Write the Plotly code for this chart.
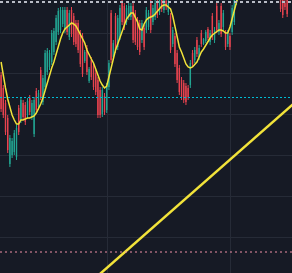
import plotly.graph_objects as go

# candle index positions
idx = list(range(131))

opens = [225,212,197,182,136,145,148,143,192,180,197,195,185,202,183,166,209,193,230,198,
         213,228,233,238,248,258,268,270,276,270,290,263,290,284,277,277,267,264,239,252,
         219,240,234,227,220,210,186,204,190,213,287,243,284,253,263,297,294,278,283,283,
         294,287,280,277,260,272,270,273,297,278,283,297,288,302,290,299,288,284,256,264,
         247,232,220,217,214,212,215,247,240,260,243,267,256,259,271,258,284,260,294,268,
         294,273,267,256,264,268,278,298,308,327,315,320,337,325,338,332,319,333,327,314,
         327,323,310,322,319,315,305,302,300,297,302]
highs = [228,215,200,185,165,162,170,175,195,203,200,198,202,205,200,203,212,210,233,225,
         250,252,250,270,272,285,292,293,293,293,293,290,293,287,280,280,270,267,250,255,
         233,243,237,230,223,213,213,207,217,240,290,260,287,285,295,300,297,295,297,297,
         297,290,283,280,280,275,293,290,300,295,300,300,303,305,303,302,300,287,273,267,
         250,235,223,220,217,215,240,250,253,263,255,270,262,270,273,270,287,273,297,280,
         297,290,270,270,267,295,305,315,325,330,332,338,340,342,341,335,338,336,330,332,
         330,326,328,325,322,318,320,305,303,300,305]
lows = [188,182,165,147,133,142,145,140,165,177,180,175,182,185,180,163,187,190,200,195,
        210,225,230,235,245,255,265,267,273,267,265,260,263,255,253,247,233,223,237,225,
        217,220,210,205,182,182,183,185,187,210,237,240,247,250,260,275,270,275,280,280,
        257,255,250,245,257,250,267,270,267,275,280,282,285,288,287,290,285,247,253,233,
        217,205,200,197,195,200,212,233,237,243,240,253,255,257,260,255,260,257,267,265,
        263,270,250,253,250,265,275,295,305,310,312,318,320,322,318,315,316,314,310,311,
        308,306,307,305,304,303,302,288,282,290,283]
closes = [191,185,168,150,162,159,167,172,168,200,183,178,199,188,197,200,190,207,203,222,
          247,249,247,267,269,282,289,290,290,290,268,287,266,258,256,250,236,226,248,228,
          231,223,213,208,185,185,210,188,214,237,240,257,250,282,292,278,273,292,294,294,
          260,258,253,248,277,253,290,287,270,292,297,285,300,291,300,293,297,250,270,236,
          220,208,203,200,198,203,237,236,250,246,252,256,261,268,262,267,263,270,270,277,
          266,287,253,267,253,292,302,312,322,313,329,335,323,339,321,318,335,317,313,329,
          311,309,325,308,307,306,317,291,285,293,286]

ma_values = [238,224,212,201,193,185,180,176,176,180,180,181,182,182,183,184,187,191,196,202,
             210,218,225,232,238,246,255,261,267,271,273,275,277,276,274,270,266,261,257,250,
             245,241,237,231,224,219,215,212,214,223,234,243,250,256,262,269,276,281,284,287,
             287,283,278,271,270,276,280,282,283,284,286,289,292,294,295,295,293,291,284,273,
             264,253,248,241,236,233,232,233,235,238,243,248,251,255,259,262,265,267,269,270,
             270,269,267,267,273,282,291,298,305,311,316,320,324,327,329,330,331,331,330,329,
             328,327,325,323,321,319,317,315,313,311,309]

trend_x = [40, 140]
trend_y = [16.5, 210.0]

level_top = 298
level_cyan = 202.5
level_red = 48

grid_y = [267, 227, 186, 145, 104, 63]
grid_x = [48.4, 104.3]

BG = "#161a25"
UP = "#22a592"
DOWN = "#e8434f"


def segments(up, use_body):
    xs, ys = [], []
    for i, o, h, l, c in zip(idx, opens, highs, lows, closes):
        if (c >= o) != up:
            continue
        xs += [i, i, None]
        ys += ([o, c, None] if use_body else [l, h, None])
    return xs, ys


fig = go.Figure()
for up, col in [(True, UP), (False, DOWN)]:
    wx, wy = segments(up, False)
    fig.add_trace(go.Scatter(x=wx, y=wy, mode="lines", line=dict(color=col, width=1),
                             hoverinfo="skip", connectgaps=False))
    bx, by = segments(up, True)
    fig.add_trace(go.Scatter(x=bx, y=by, mode="lines", line=dict(color=col, width=1.4),
                             hoverinfo="skip", connectgaps=False))

fig.add_trace(go.Scatter(x=idx, y=ma_values, mode="lines",
                         line=dict(color="#f2e33a", width=1.5), hoverinfo="skip"))
fig.add_trace(go.Scatter(x=trend_x, y=trend_y, mode="lines",
                         line=dict(color="#f2e33a", width=2.5), hoverinfo="skip"))

for lvl, col, dash, w in [(level_top, "#b8bcc6", "3px,3px", 2),
                          (level_cyan, "#00bcd4", "2px,2px", 1),
                          (level_red, "#ee8fa6", "2px,3px", 1)]:
    fig.add_shape(type="line", xref="paper", x0=0, x1=1, yref="y", y0=lvl, y1=lvl,
                  line=dict(color=col, width=w, dash=dash), layer="above")

fig.update_layout(
    width=292, height=273, margin=dict(l=0, r=0, t=0, b=0),
    paper_bgcolor=BG, plot_bgcolor=BG, showlegend=False, hovermode=False,
    xaxis=dict(range=[-0.5, 132.2], showticklabels=False, tickvals=grid_x,
               showgrid=True, gridcolor="#262b37", gridwidth=1, zeroline=False,
               fixedrange=True),
    yaxis=dict(range=[27, 300], showticklabels=False, tickvals=grid_y,
               showgrid=True, gridcolor="#262b37", gridwidth=1, zeroline=False,
               fixedrange=True),
)
fig.write_html("out.html", config={"displayModeBar": False})
